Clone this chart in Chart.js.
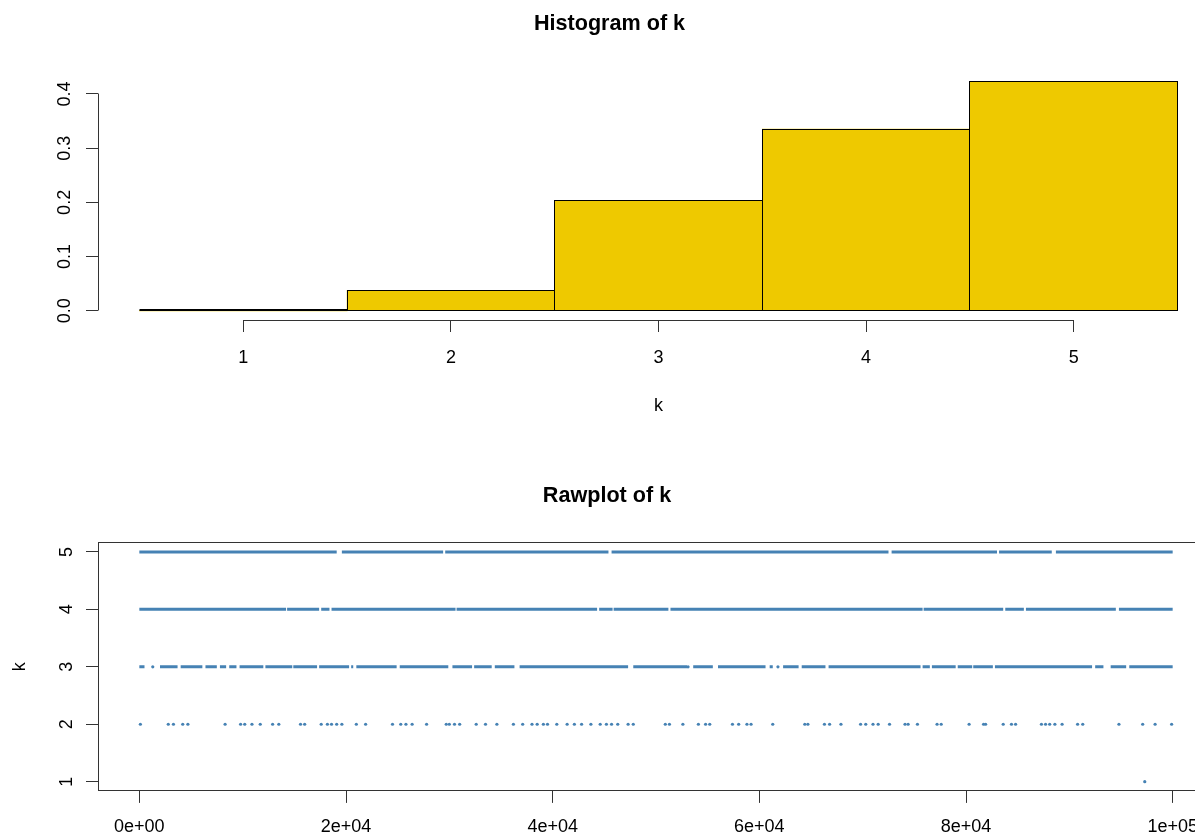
<!DOCTYPE html>
<html>
<head>
<meta charset="utf-8">
<title>k: histogram and raw trace</title>
<script src="https://cdn.jsdelivr.net/npm/chart.js@4.4.1/dist/chart.umd.min.js"></script>
<style>
  html, body { margin: 0; padding: 0; background: #fff; overflow: hidden; width: 1195px; height: 839px; }
  #wrap { position: relative; width: 1195px; height: 839px; overflow: hidden; }
  canvas { position: absolute; left: 0; display: block; }
  #hist { top: 0; }
  #raw { top: 420px; }
</style>
</head>
<body>
<div id="wrap">
  <canvas id="hist" width="1313" height="420"></canvas>
  <canvas id="raw" width="1313" height="419"></canvas>
</div>
<script>
// ---------- histogram of k (density per unit bin) ----------
const histCenters = [1, 2, 3, 4, 5];
const histDensity = [0.00001, 0.038, 0.2035, 0.335, 0.4229];
const histXTicks = [1, 2, 3, 4, 5];
const histYTicks = [0, 0.1, 0.2, 0.3, 0.4];
const histYTickLabels = ['0.0', '0.1', '0.2', '0.3', '0.4'];

// ---------- raw trace of k over the iterations ----------
const rawXTicks = [0, 20000, 40000, 60000, 80000, 100000];
const rawXTickLabels = ['0e+00', '2e+04', '4e+04', '6e+04', '8e+04', '1e+05'];
const rawYTicks = [1, 2, 3, 4, 5];

// stretches of iterations where k stays densely at a level: [from, to]
const runsK5 = [[0, 19100], [19600, 29400], [29600, 45400], [45700, 72500], [72800, 83000],
  [83200, 88300], [88700, 100000]];
const runsK4 = [[0, 14200], [14300, 17400], [17600, 18400], [18600, 30600], [30700, 44300],
  [44500, 45800], [45900, 51200], [51400, 75800], [75900, 83600], [83800, 85600],
  [85800, 94500], [94800, 100000]];
const runsK3 = [[0, 500], [2000, 3700], [4000, 6100], [6400, 7500], [7800, 8400], [8700, 9400],
  [9700, 12000], [12200, 14800], [14900, 17200], [17400, 20300], [20500, 20700],
  [21000, 24900], [25200, 29900], [30300, 32200], [32400, 34100], [34400, 36300],
  [36800, 47300], [47800, 53000], [53600, 55500], [56000, 60600], [61000, 61300],
  [62300, 63800], [64100, 66400], [66700, 75600], [75800, 76500], [76700, 79000],
  [79200, 80600], [80700, 82600], [82800, 92200], [92500, 93300], [94000, 95500],
  [95800, 100000]];
// isolated iterations
const pointsK3 = [1300, 53100, 61800];
const pointsK2 = [100, 2800, 3300, 4200, 4700, 8300, 9800, 10200, 10900, 11700, 12900, 13500,
  15600, 16000, 17600, 18200, 18600, 19100, 19600, 21000, 21900, 24500, 25300, 25800,
  26400, 27800, 29700, 30000, 30500, 31000, 32600, 33500, 34600, 36200, 37100, 38000,
  38500, 39100, 39500, 40400, 41400, 42100, 42800, 43700, 44600, 45200, 45700, 46300,
  47300, 47800, 50900, 51300, 52600, 54100, 54800, 55200, 57400, 58000, 58800, 59200,
  61300, 64400, 64700, 66300, 66800, 67900, 69800, 70300, 71000, 71500, 72600, 74100,
  74400, 75300, 77200, 77600, 80300, 81700, 81900, 83600, 84400, 84800, 87300, 87700,
  88100, 88600, 89300, 90800, 91300, 94800, 97100, 98300, 99900];
const pointsK1 = [97300];

const barFill = '#EEC900';     // gold2
const traceColor = '#4682B4';  // steelblue
const inkColor = '#333';

Chart.defaults.font.family = '"Liberation Sans", Arial, Helvetica, sans-serif';
Chart.defaults.font.size = 18;
Chart.defaults.color = '#000';
Chart.defaults.animation = false;

function alignPx(p) { return Math.round(p - 0.5) + 0.5; }

// bar outlines and the partial axis lines of the histogram
const histFrame = {
  id: 'histFrame',
  afterDatasetsDraw(chart) {
    const ctx = chart.ctx;
    const meta = chart.getDatasetMeta(0);
    ctx.save();
    ctx.strokeStyle = '#000';
    ctx.lineWidth = 1;
    meta.data.forEach(bar => {
      const { x, y, base, width } = bar.getProps(['x', 'y', 'base', 'width'], true);
      const l = alignPx(x - width / 2), r = alignPx(x + width / 2);
      const t = alignPx(y), b = alignPx(base);
      if (b - t < 1) {
        // an empty bin collapses to a doubled edge on the baseline
        ctx.save();
        ctx.lineWidth = 2;
        ctx.beginPath();
        ctx.moveTo(l, Math.round(base));
        ctx.lineTo(r, Math.round(base));
        ctx.stroke();
        ctx.restore();
      } else {
        ctx.strokeRect(l, t, r - l, b - t);
      }
    });
    ctx.restore();
  },
  afterDraw(chart) {
    const ctx = chart.ctx;
    const xs = chart.scales.x, ys = chart.scales.y;
    const area = chart.chartArea;
    ctx.save();
    ctx.strokeStyle = inkColor;
    ctx.lineWidth = 1;
    ctx.beginPath();
    const ax = alignPx(area.left);
    ctx.moveTo(ax, alignPx(ys.getPixelForValue(histYTicks[0])));
    ctx.lineTo(ax, alignPx(ys.getPixelForValue(histYTicks[histYTicks.length - 1])));
    const ay = alignPx(area.bottom);
    ctx.moveTo(alignPx(xs.getPixelForValue(histXTicks[0])), ay);
    ctx.lineTo(alignPx(xs.getPixelForValue(histXTicks[histXTicks.length - 1])), ay);
    ctx.stroke();
    ctx.restore();
  }
};

// full box around the trace panel
const boxFrame = {
  id: 'boxFrame',
  afterDraw(chart) {
    const ctx = chart.ctx;
    const a = chart.chartArea;
    ctx.save();
    ctx.strokeStyle = inkColor;
    ctx.lineWidth = 1;
    const l = alignPx(a.left), r = alignPx(a.right), t = alignPx(a.top), b = alignPx(a.bottom);
    ctx.strokeRect(l, t, r - l, b - t);
    ctx.restore();
  }
};

new Chart(document.getElementById('hist'), {
  type: 'bar',
  data: {
    datasets: [{
      data: histCenters.map((c, i) => ({ x: c, y: histDensity[i] })),
      backgroundColor: barFill,
      borderWidth: 0,
      barPercentage: 1,
      categoryPercentage: 1
    }]
  },
  options: {
    responsive: false,
    devicePixelRatio: 1,
    layout: { padding: { left: 0, right: 94, top: 0, bottom: 0 } },
    plugins: {
      legend: { display: false },
      tooltip: { enabled: false },
      title: {
        display: true,
        text: 'Histogram of k',
        color: '#000',
        font: { size: 21.6, weight: 'bold' },
        padding: { top: 11.3, bottom: 35.1 }
      }
    },
    scales: {
      x: {
        type: 'linear',
        min: 0.3,
        max: 5.7,
        offset: false,
        afterBuildTicks: s => { s.ticks = histXTicks.map(v => ({ value: v })); },
        afterFit: s => { s.height = 100; },
        ticks: { padding: 15.5, autoSkip: false, minRotation: 0, maxRotation: 0, color: '#000',
                 callback: v => String(v) },
        grid: { offset: false, drawOnChartArea: false, drawTicks: true, tickLength: 12, color: inkColor, lineWidth: 1 },
        border: { display: false },
        title: { display: true, text: 'k', color: '#000', font: { size: 18 }, padding: { top: 0, bottom: 3.2 } }
      },
      y: {
        type: 'linear',
        min: -0.0169,
        max: 0.4398,
        afterBuildTicks: s => { s.ticks = histYTicks.map(v => ({ value: v })); },
        afterFit: s => { s.width = 98; },
        ticks: { minRotation: 90, maxRotation: 90, crossAlign: 'center', padding: 8.5, autoSkip: false,
                 color: '#000', callback: (v, i) => histYTickLabels[i] },
        grid: { drawOnChartArea: false, drawTicks: true, tickLength: 12, color: inkColor, lineWidth: 1 },
        border: { display: false }
      }
    }
  },
  plugins: [histFrame]
});

function runsToPath(runs, level) {
  const pts = [];
  runs.forEach(([a, b]) => {
    pts.push({ x: a, y: level });
    pts.push({ x: b, y: level });
    pts.push({ x: b, y: null });
  });
  return pts;
}
function pointsAt(xs, level) { return xs.map(x => ({ x: x, y: level })); }

const runStyle = {
  showLine: true,
  borderColor: traceColor,
  borderWidth: 3,
  borderCapStyle: 'butt',
  pointRadius: 0,
  spanGaps: false
};
const dotStyle = {
  showLine: false,
  backgroundColor: traceColor,
  pointBackgroundColor: traceColor,
  pointBorderWidth: 0,
  pointRadius: 1.6
};

new Chart(document.getElementById('raw'), {
  type: 'scatter',
  data: {
    datasets: [
      Object.assign({ data: runsToPath(runsK5, 5) }, runStyle),
      Object.assign({ data: runsToPath(runsK4, 4) }, runStyle),
      Object.assign({ data: runsToPath(runsK3, 3) }, runStyle),
      Object.assign({ data: pointsAt(pointsK3, 3) }, dotStyle),
      Object.assign({ data: pointsAt(pointsK2, 2) }, dotStyle),
      Object.assign({ data: pointsAt(pointsK1, 1) }, dotStyle)
    ]
  },
  options: {
    responsive: false,
    devicePixelRatio: 1,
    layout: { padding: { left: 0, right: 99, top: 0, bottom: 0 } },
    plugins: {
      legend: { display: false },
      tooltip: { enabled: false },
      title: {
        display: true,
        text: 'Rawplot of k',
        color: '#000',
        font: { size: 21.6, weight: 'bold' },
        padding: { top: 63.04, bottom: 33.74 }
      }
    },
    scales: {
      x: {
        type: 'linear',
        min: -4000,
        max: 104000,
        afterBuildTicks: s => { s.ticks = rawXTicks.map(v => ({ value: v })); },
        afterFit: s => { s.height = 48.1; },
        ticks: { padding: 13.5, autoSkip: false, minRotation: 0, maxRotation: 0, color: '#000',
                 callback: (v, i) => rawXTickLabels[i] },
        grid: { drawOnChartArea: false, drawTicks: true, tickLength: 12, color: inkColor, lineWidth: 1 },
        border: { display: false }
      },
      y: {
        type: 'linear',
        min: 0.84,
        max: 5.16,
        afterBuildTicks: s => { s.ticks = rawYTicks.map(v => ({ value: v })); },
        afterFit: s => { s.width = 98; },
        ticks: { minRotation: 90, maxRotation: 90, crossAlign: 'center', padding: 13.5, autoSkip: false,
                 color: '#000', callback: v => String(v) },
        grid: { drawOnChartArea: false, drawTicks: true, tickLength: 12, color: inkColor, lineWidth: 1 },
        border: { display: false },
        title: { display: true, text: 'k', color: '#000', font: { size: 18 }, padding: { top: 9.5, bottom: 0 } }
      }
    }
  },
  plugins: [boxFrame]
});
</script>
</body>
</html>
